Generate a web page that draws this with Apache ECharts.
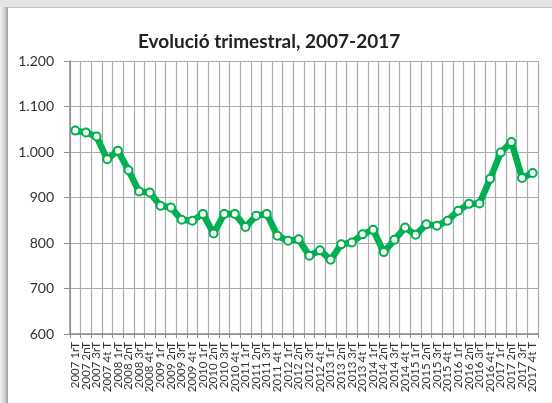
<!DOCTYPE html>
<html>
<head>
<meta charset="utf-8">
<script src="https://cdn.jsdelivr.net/npm/echarts@6/dist/echarts.min.js"></script>
<style>
    html, body { margin: 0; padding: 0; background: #fff; }
    #chart { width: 552px; height: 403px; }
</style>
</head>
<body>
<div id="chart"></div>
<script>
// anys i trimestres
var anys = ['2007', '2008', '2009', '2010', '2011', '2012', '2013', '2014', '2015', '2016', '2017'];
var trimestres = ['1rT', '2nT', '3rT', '4t T'];

// valors llegits del gràfic (un per trimestre)
var valors = [
    1047, 1043, 1034, 984,
    1003, 960, 913, 911,
    882, 878, 851, 849,
    864, 821, 864, 864,
    835, 860, 864, 816,
    805, 808, 772, 784,
    763, 797, 801, 819,
    829, 780, 807, 834,
    818, 841, 838, 849,
    871, 886, 887, 941,
    999, 1022, 943, 954
];

var categories = [];
for (var i = 0; i < anys.length; i++) {
    for (var j = 0; j < trimestres.length; j++) {
        categories.push(anys[i] + ' ' + trimestres[j]);
    }
}

var verd = '#00b050';
var gris = '#ababab';

var oChart = echarts.init(document.getElementById('chart'));
var chartopt = {
    backgroundColor: '#fff',
    animation: false,
    title: {
        text: 'Evolució trimestral, 2007-2017',
        left: 133,
        top: 27,
        textStyle: {
            fontFamily: 'Lato',
            fontWeight: 'bold',
            fontSize: 19,
            color: '#222'
        }
    },
    graphic: [
        { type: 'rect', shape: { x: 0, y: 0, width: 552, height: 7 }, style: { fill: '#e4e4e4' }, silent: true },
        { type: 'rect', shape: { x: 0, y: 7, width: 552, height: 1 }, style: { fill: '#c4c4c4' }, silent: true },
        {
            type: 'rect', shape: { x: 0, y: 7, width: 8, height: 396 }, silent: true,
            style: {
                fill: new echarts.graphic.LinearGradient(0, 0, 1, 0, [
                    { offset: 0, color: '#f2f2f2' },
                    { offset: 0.6, color: '#d0d0d0' },
                    { offset: 1, color: '#9a9a9a' }
                ])
            }
        }
    ],
    grid: {
        left: 70,
        right: 14,
        top: 61,
        bottom: 69,
        outerBoundsMode: 'none'
    },
    xAxis: [{
        type: 'category',
        boundaryGap: true,
        data: categories,
        axisLine: { lineStyle: { color: '#8c8c8c', width: 1.5 } },
        axisTick: { show: true, interval: 0, length: 4, lineStyle: { color: '#8c8c8c' } },
        axisLabel: {
            interval: 0,
            rotate: 90,
            margin: 8,
            fontFamily: 'Lato',
            fontSize: 11.5,
            color: '#333'
        },
        splitLine: { show: true, interval: 0, lineStyle: { color: gris, width: 1.2 } }
    }],
    yAxis: [{
        type: 'value',
        min: 600,
        max: 1200,
        interval: 100,
        axisLine: { show: true, lineStyle: { color: '#8c8c8c', width: 1.5 } },
        axisTick: { show: true, length: 6, lineStyle: { color: '#8c8c8c' } },
        axisLabel: {
            margin: 16,
            fontFamily: 'Lato',
            fontSize: 14,
            color: '#333',
            formatter: function(v) {
                if (v >= 1000) {
                    var s = String(v);
                    return s.slice(0, s.length - 3) + '.' + s.slice(-3);
                }
                return String(v);
            }
        },
        splitLine: { show: true, lineStyle: { color: gris, width: 1.2 } }
    }],
    series: [{
        name: 'Evolució',
        type: 'line',
        data: valors,
        symbol: 'circle',
        symbolSize: 8,
        showAllSymbol: true,
        lineStyle: { color: verd, width: 6.5 },
        itemStyle: { color: '#fff', borderColor: verd, borderWidth: 2 }
    }]
};

oChart.setOption(chartopt);
</script>
</body>
</html>
